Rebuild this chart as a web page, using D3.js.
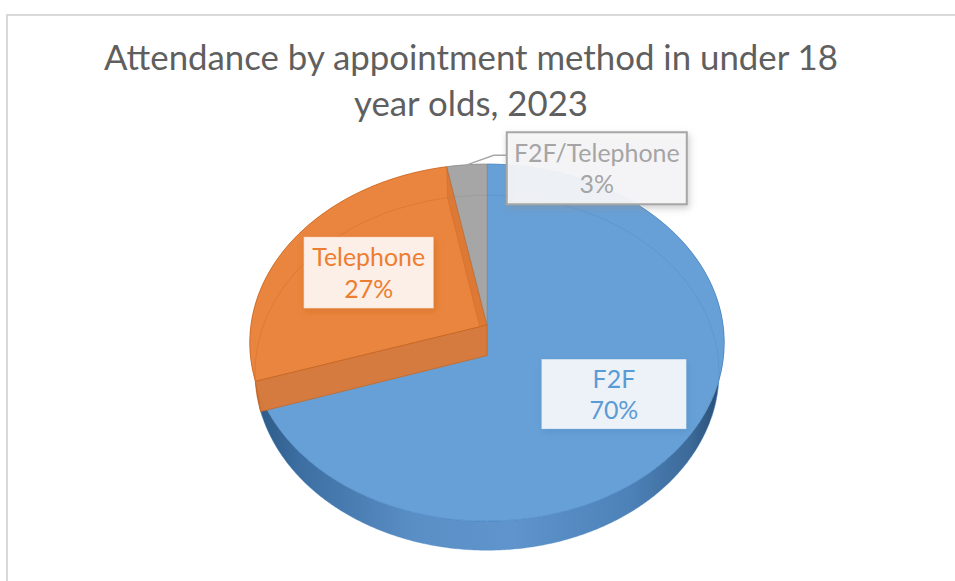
<!DOCTYPE html>
<html>
<head>
<meta charset="utf-8">
<script src="https://cdn.jsdelivr.net/npm/d3@7"></script>
<style>
  html, body { margin: 0; padding: 0; background: #ffffff; }
  svg { display: block; }
  text { font-family: Lato, "Open Sans", "Noto Sans", sans-serif; }
</style>
</head>
<body>
<svg id="chart" width="955" height="581"></svg>
<script>
// ---- data ----
const categories = ["F2F", "Telephone", "F2F/Telephone"];
const shares = [70, 27, 3];
const percentLabels = ["70%", "27%", "3%"];
const titleLines = ["Attendance by appointment method in under 18", "year olds, 2023"];

// ---- styles ----
const topColors  = ["#67a0d6", "#e9853f", "#a6a6a6"];
const edgeColors = ["#4a86c2", "#c9651f", "#8c8c8c"];
const textColors = ["#5b9bd5", "#ed7d31", "#a5a5a5"];
const boxFills   = ["#edf2f9", "#fbefe8", "#f6f6f7"];
const wallStops = [
  [[0, "#2b5783"], [0.1, "#3c6ea1"], [0.35, "#5a8fc6"], [0.55, "#5f95cc"], [0.8, "#4d82b9"], [0.93, "#3c6a99"], [1, "#274a70"]],
  [[0, "#a9531b"], [0.06, "#c2642a"], [0.2, "#d47234"], [1, "#d47234"]],
  [[0, "#8a8a8a"], [1, "#8a8a8a"]]
];
// label layout: radius fraction for the anchor, box size
const labelRadius = [0.64, 0.60, 1.0];
const boxSizes = [[145, 70], [130, 71.5], [180, 72]];

const W = 955, H = 581;
const svg = d3.select("#chart");

// ---- perspective camera for the 3D pie ----
const cam = { cx: 487, cy: 325, F: 1584, ch: 5.027, cd: 4.447 };
const camL = Math.hypot(cam.ch, cam.cd);
const depth = 0.2;

function P(theta, r, y) {
  const px = r * Math.sin(theta), pz = -r * Math.cos(theta);
  const vx = px, vy = y - cam.ch, vz = pz - cam.cd;
  const vf = -(vy * cam.ch + vz * cam.cd) / camL;
  const vu = (vy * cam.cd - vz * cam.ch) / camL;
  return [cam.cx + cam.F * vx / vf, cam.cy - cam.F * vu / vf];
}
function rim(a0, a1, r, y) {
  const n = Math.max(2, Math.ceil(Math.abs(a1 - a0) / (Math.PI / 360)));
  return d3.range(n + 1).map(i => P(a0 + (a1 - a0) * i / n, r, y));
}
const lineGen = d3.line();
const closed = pts => lineGen(pts) + "Z";

const slices = d3.pie().sort(null).value(d => d)(shares);

// ---- defs ----
const defs = svg.append("defs");
slices.forEach((s, i) => {
  const g = defs.append("linearGradient")
    .attr("id", "wall" + i)
    .attr("gradientUnits", "userSpaceOnUse")
    .attr("x1", P(-Math.PI / 2, 1, 0)[0]).attr("x2", P(Math.PI / 2, 1, 0)[0])
    .attr("y1", 0).attr("y2", 0);
  wallStops[i].forEach(([o, c]) => g.append("stop").attr("offset", o).attr("stop-color", c));
  const f = defs.append("filter").attr("id", "shadow" + i)
    .attr("x", "-30%").attr("y", "-30%").attr("width", "160%").attr("height", "160%");
  f.append("feDropShadow").attr("dx", 1.5).attr("dy", 3).attr("stdDeviation", 3.5)
    .attr("flood-color", edgeColors[i]).attr("flood-opacity", 0.45);
});

// ---- chart frame ----
svg.append("path")
  .attr("d", `M7,${H}V15H${W}`)
  .attr("fill", "none").attr("stroke", "#d9d9d9").attr("stroke-width", 2);

// ---- title ----
function fitFont(sel, targetWidth, start) {
  sel.style("font-size", start + "px");
  const w = sel.node().getComputedTextLength();
  return start * targetWidth / w;
}
const title = svg.append("g").attr("fill", "#5f5f5f");
const t1 = title.append("text").attr("x", 471).attr("y", 70).attr("text-anchor", "middle").text(titleLines[0]);
const titleSize = fitFont(t1, 734, 32);
t1.style("font-size", titleSize + "px");
title.append("text").attr("x", 471).attr("y", 116).attr("text-anchor", "middle")
  .style("font-size", titleSize + "px").text(titleLines[1]);

// ---- pie: outer walls ----
const pieG = svg.append("g");
pieG.selectAll("path.wall").data(slices).join("path")
  .attr("class", "wall")
  .attr("d", s => closed([...rim(s.startAngle, s.endAngle, 1, 0), ...rim(s.endAngle, s.startAngle, 1, -depth)]))
  .attr("fill", (s, i) => `url(#wall${i})`)
  .attr("stroke", (s, i) => edgeColors[i]).attr("stroke-width", 0.6).attr("stroke-opacity", 0.6);

// ---- pie: top faces ----
pieG.selectAll("path.top").data(slices).join("path")
  .attr("class", "top")
  .attr("d", s => closed([P(0, 0, 0), ...rim(s.startAngle, s.endAngle, 1, 0)]))
  .attr("fill", (s, i) => topColors[i])
  .attr("stroke", (s, i) => edgeColors[i]).attr("stroke-width", 0.9).attr("stroke-opacity", 0.7);

// ---- faint lower rim seen through the translucent top ----
const backA = -1.92, backB = 1.92;
slices.forEach((s, i) => {
  [[s.startAngle, s.endAngle], [s.startAngle - 2 * Math.PI, s.endAngle - 2 * Math.PI]].forEach(([a, b]) => {
    const lo = Math.max(a, backA), hi = Math.min(b, backB);
    if (hi > lo) {
      pieG.append("path").attr("d", lineGen(rim(lo, hi, 1, -depth)))
        .attr("fill", "none").attr("stroke", edgeColors[i]).attr("stroke-width", 1).attr("stroke-opacity", 0.35);
    }
  });
});

// ---- radial cut walls of the middle slices ----
slices.forEach((s, i) => {
  if (i === 0 || i === slices.length - 1) return;
  const wall = a => closed([P(a, 0, 0), P(a, 1, 0), P(a, 1, -depth), P(a, 0, -depth)]);
  pieG.append("path").attr("d", wall(s.endAngle))
    .attr("fill", edgeColors[i]).attr("fill-opacity", 0.35)
    .attr("stroke", edgeColors[i]).attr("stroke-width", 0.7).attr("stroke-opacity", 0.5);
  pieG.append("path").attr("d", wall(s.startAngle))
    .attr("fill", "#d97a3b").attr("fill-opacity", 0.97)
    .attr("stroke", edgeColors[i]).attr("stroke-width", 0.9).attr("stroke-opacity", 0.9);
});

// ---- data labels ----
const labelG = svg.append("g");
const probe = labelG.append("text").text(categories[1]);
const labelSize = fitFont(probe, 113, 24);
probe.remove();

slices.forEach((s, i) => {
  const mid = (s.startAngle + s.endAngle) / 2;
  const anchor = P(mid, labelRadius[i], 0);
  const [bw, bh] = boxSizes[i];
  let cx = anchor[0], cy = anchor[1];
  const outside = labelRadius[i] >= 1;
  if (outside) { cx = anchor[0] + 130; cy = anchor[1] + 3.5; }
  const g = labelG.append("g");
  if (outside) {
    const bx = cx - bw / 2, ly = cy - 13;
    g.append("path")
      .attr("d", lineGen([anchor, [bx - 13, ly], [bx, ly]]))
      .attr("fill", "none").attr("stroke", "#a6a6a6").attr("stroke-width", 1.3);
  }
  g.append("rect")
    .attr("x", cx - bw / 2).attr("y", cy - bh / 2).attr("width", bw).attr("height", bh)
    .attr("fill", boxFills[i]).attr("fill-opacity", outside ? 0.92 : 1)
    .attr("stroke", outside ? "#a6a6a6" : textColors[i])
    .attr("stroke-width", outside ? 2 : 1).attr("stroke-opacity", outside ? 1 : 0.3)
    .attr("filter", `url(#shadow${i})`);
  g.append("text").attr("x", cx).attr("y", cy - 6.5).attr("text-anchor", "middle")
    .attr("fill", textColors[i]).style("font-size", labelSize + "px").text(categories[i]);
  g.append("text").attr("x", cx).attr("y", cy + 25).attr("text-anchor", "middle")
    .attr("fill", textColors[i]).style("font-size", labelSize + "px").text(percentLabels[i]);
});
</script>
</body>
</html>
